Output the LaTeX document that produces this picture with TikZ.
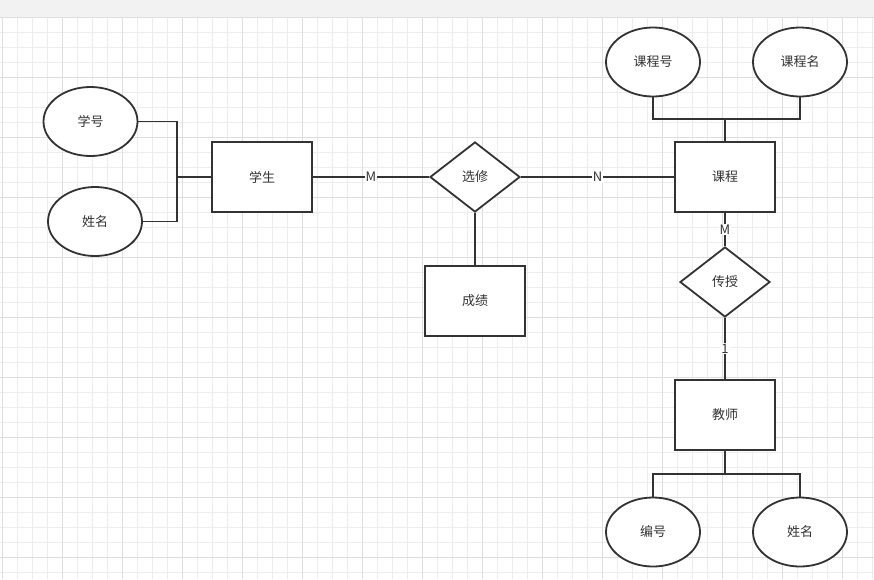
\documentclass[tikz,border=0pt]{standalone}
\usepackage{fontspec}
\setmainfont{Noto Sans CJK SC}
\usetikzlibrary{shapes.geometric}
\definecolor{lc}{HTML}{333333}
\definecolor{band}{HTML}{F2F2F2}
\definecolor{gminor}{HTML}{EDEDED}
\definecolor{gmajor}{HTML}{DEDEDE}
\begin{document}
\begin{tikzpicture}[x=1pt,y=-1pt,
  every node/.style={font=\fontsize{13pt}{15pt}\selectfont, text=lc},
  ent/.style={draw=lc, line width=1.8pt, fill=white, rectangle, minimum width=100pt, minimum height=70pt, inner sep=0pt},
  attr/.style={draw=lc, line width=1.8pt, fill=white, ellipse, minimum width=94pt, minimum height=69pt, inner sep=0pt},
  rel/.style={draw=lc, line width=1.8pt, fill=white, diamond, minimum width=90pt, minimum height=70pt, inner sep=0pt},
  conn/.style={draw=lc, line width=1.8pt},
  card/.style={fill=white, inner sep=1pt},
  minorline/.style={draw=gminor, line width=1pt},
  majorline/.style={draw=gmajor, line width=1pt}]
\useasboundingbox (0,0) rectangle (874,579);
\fill[white] (0,0) rectangle (874,579);
% grid
\foreach \x in {2,17,...,872} \draw[minorline] (\x,17) -- (\x,579);
\foreach \y in {17,32,...,572} \draw[minorline] (0,\y) -- (874,\y);
\foreach \x in {2,62,...,842} \draw[majorline] (\x,17) -- (\x,579);
\foreach \y in {17,77,...,557} \draw[majorline] (0,\y) -- (874,\y);
\fill[band] (0,0) rectangle (874,17);
% nodes
\node[attr] (xh) at (90.5,121.5) {学号};
\node[attr] (xm) at (95,221.5) {姓名};
\node[ent] (xs) at (262,177) {学生};
\node[rel] (xx) at (475,177) {选修};
\node[ent] (cj) at (475,301) {成绩};
\node[ent] (kc) at (725,177) {课程};
\node[attr] (kch) at (653,62) {课程号};
\node[attr] (kcm) at (800,62) {课程名};
\node[rel] (cs) at (725,282) {传授};
\node[ent] (js) at (725,415) {教师};
\node[attr] (bh) at (653,532) {编号};
\node[attr] (jm) at (800,532) {姓名};
\coordinate (j1) at (177,177);
\coordinate (j2) at (725,119);
\coordinate (j3) at (725,474);
% connectors
\draw[conn] (xh.east) -| (j1) |- (xm.east);
\draw[conn] (j1) -- (xs.west);
\draw[conn] (xs.east) -- node[card] {M} (xx.west);
\draw[conn] (xx.east) -- node[card] {N} (kc.west);
\draw[conn] (xx.south) -- (cj.north);
\draw[conn] (kch.south) |- (j2) -| (kcm.south);
\draw[conn] (j2) -- (kc.north);
\draw[conn] (kc.south) -- node[card] {M} (cs.north);
\draw[conn] (cs.south) -- node[card] {1} (js.north);
\draw[conn] (bh.north) |- (j3) -| (jm.north);
\draw[conn] (j3) -- (js.south);
\end{tikzpicture}
\end{document}
